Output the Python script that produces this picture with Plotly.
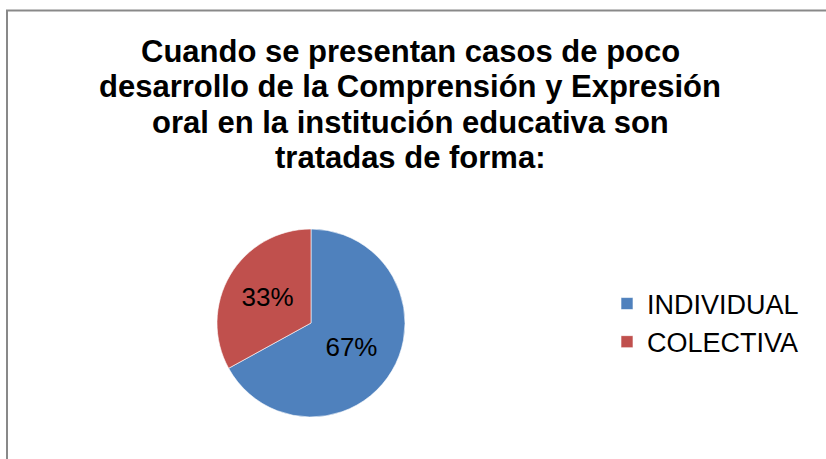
import plotly.graph_objects as go

categories = ["INDIVIDUAL", "COLECTIVA"]
values = [67, 33]
colors = ["#4F81BD", "#C0504D"]
title_lines = [
    "Cuando se presentan casos de poco",
    "desarrollo de la Comprensión y Expresión",
    "oral en la institución educativa son",
    "tratadas de forma:",
]

W, H = 826, 459
FONT = "Liberation Sans, Arial, sans-serif"

fig = go.Figure(
    go.Pie(
        labels=categories,
        values=values,
        sort=False,
        direction="clockwise",
        rotation=0,
        marker=dict(colors=colors, line=dict(color="white", width=0.6)),
        textinfo="percent",
        texttemplate="%{percent:.0%}",
        textposition="inside",
        insidetextorientation="horizontal",
        textfont=dict(family=FONT, size=26, color="black"),
        domain=dict(x=[217 / W, 405 / W], y=[42 / H, 230 / H]),
        hoverinfo="label+percent",
    )
)

# title, one annotation per line for Excel-like line spacing
line_centers = [51, 86.5, 122, 157.5]
annotations = []
for txt, yc in zip(title_lines, line_centers):
    annotations.append(
        dict(
            text="<b>" + txt + "</b>",
            xref="paper",
            yref="paper",
            x=410 / W,
            y=1 - yc / H,
            xanchor="center",
            yanchor="middle",
            showarrow=False,
            font=dict(family=FONT, size=31, color="black"),
        )
    )

fig.update_layout(
    width=W,
    height=H,
    margin=dict(l=0, r=0, t=0, b=0),
    paper_bgcolor="white",
    plot_bgcolor="white",
    annotations=annotations,
    legend=dict(
        x=607 / W,
        y=1 - 323 / H,
        xanchor="left",
        yanchor="middle",
        font=dict(family=FONT, size=27, color="black"),
        itemwidth=30,
    ),
    shapes=[
        dict(
            type="rect",
            xref="paper",
            yref="paper",
            x0=7 / W,
            x1=1.02,
            y0=-0.02,
            y1=1 - 10.5 / H,
            line=dict(color="#898989", width=2),
        )
    ],
)

fig.write_html(
    "out.html",
    config={"displayModeBar": False},
    post_script="document.body.style.margin='0';document.body.style.overflow='hidden';",
)
